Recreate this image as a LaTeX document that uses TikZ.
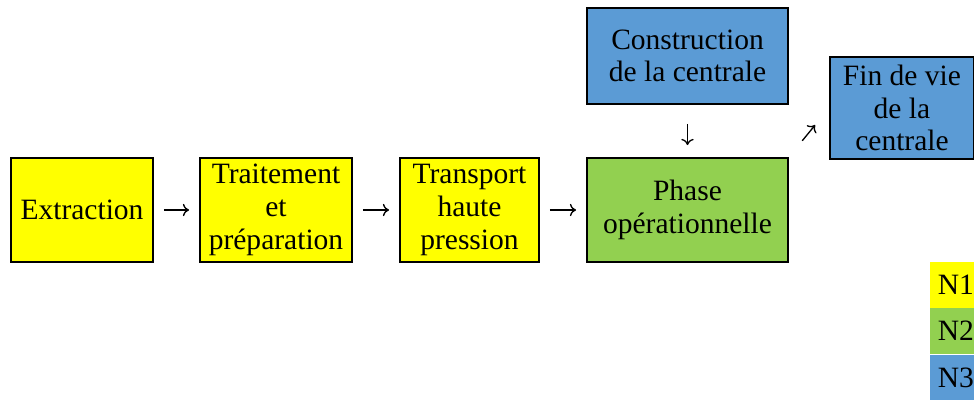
\documentclass[tikz,border=0pt]{standalone}
\usepackage{fontspec}
\setmainfont{Liberation Serif}
\usetikzlibrary{arrows.meta}

\definecolor{niveauA}{RGB}{255,255,0}
\definecolor{niveauB}{RGB}{146,208,80}
\definecolor{niveauC}{RGB}{91,155,213}

\tikzset{
  etape/.style={draw=black, line width=1.1pt, align=center, inner sep=0pt,
    font=\fontsize{16.8}{18.6}\selectfont},
  legende/.style={anchor=west, inner xsep=0.15cm, inner ysep=0pt, minimum height=0.92cm,
    font=\fontsize{16.8}{18.6}\selectfont},
  fleche/.style={line width=0.75pt, -{To[length=3.5pt,width=7pt]},
    shorten <=0.2cm, shorten >=0.2cm},
}

\begin{document}
\begin{tikzpicture}[x=0.02cm, y=-0.02cm]
  \useasboundingbox (0,0) rectangle (974,401);

  % --- chaine amont (N1) ---
  \node[etape, fill=niveauA, minimum width=2.84cm, minimum height=2.08cm] (extr) at (82,210) {Extraction};
  \node[etape, fill=niveauA, minimum width=3.04cm, minimum height=2.08cm] (trait) at (276,210) {Traitement\\et\\préparation};
  \node[etape, fill=niveauA, minimum width=2.78cm, minimum height=2.08cm] (transp) at (469.5,210) {Transport\\haute\\pression};

  % --- centrale ---
  \node[etape, fill=niveauB, minimum width=4.02cm, minimum height=2.08cm] (phase) at (687.5,210) {Phase\\opérationnelle};
  \node[etape, fill=niveauC, minimum width=4.02cm, minimum height=1.92cm] (constr) at (687.5,56) {Construction\\de la centrale};
  \node[etape, fill=niveauC, minimum width=2.88cm, minimum height=2.04cm] (fin) at (902,108) {Fin de vie\\de la\\centrale};

  % fleches
  \draw[fleche] (extr) -- (trait);
  \draw[fleche] (trait) -- (transp);
  \draw[fleche] (transp) -- (phase);
  \draw[fleche, shorten <=0.38cm, shorten >=0.24cm] (constr) -- (phase);
  \draw[fleche, shorten <=0.42cm, shorten >=0.44cm] (phase.north east) -- (fin.west);

  % legende
  \node[legende, fill=niveauA] (legA) at (930,285) {N1};
  \node[legende, fill=niveauB] (legB) at (930,331) {N2};
  \node[legende, fill=niveauC] (legC) at (930,377.5) {N3};
\end{tikzpicture}
\end{document}
